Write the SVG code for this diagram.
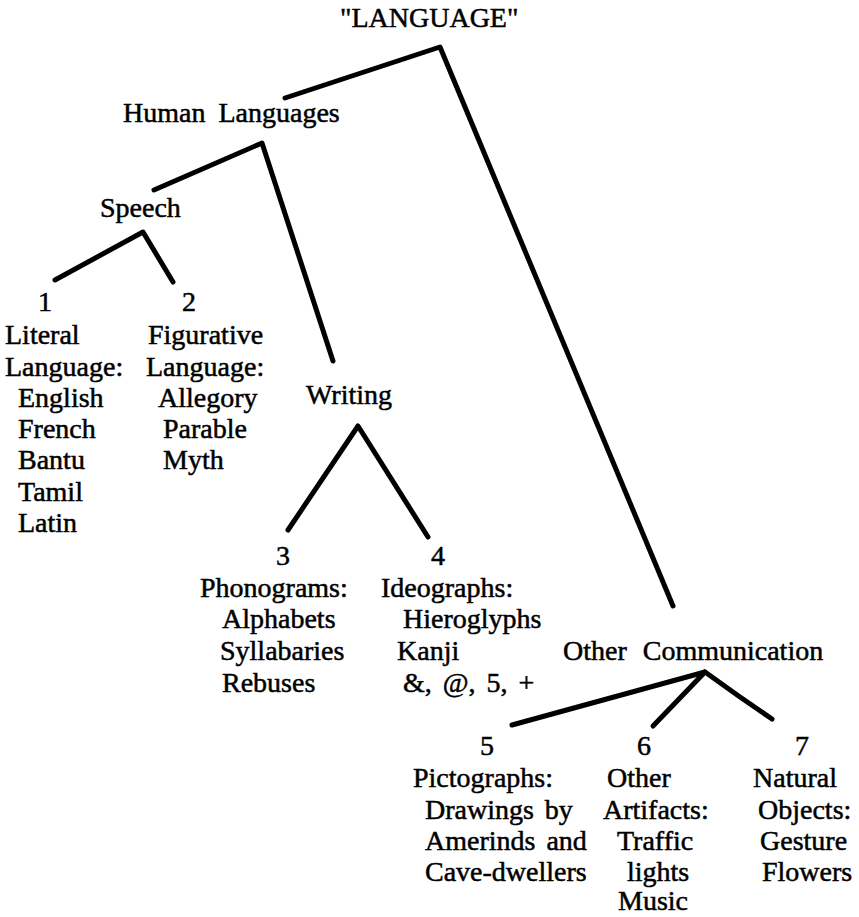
<svg xmlns="http://www.w3.org/2000/svg" width="859" height="917" viewBox="0 0 859 917">
<style>
text { font-family: "Liberation Serif", "Times New Roman", serif; font-size: 28px; fill: #000; stroke: #000; stroke-width: 0.5px; }
.edge { fill: none; stroke: #000; stroke-width: 5; stroke-linecap: round; stroke-linejoin: round; }
</style>
<rect width="859" height="917" fill="#fff"/>
<g id="connectors">
  <polyline class="edge" points="285,98 440,47 673,606"/>
  <polyline class="edge" points="154,190 262,143 333,361"/>
  <polyline class="edge" points="55,280 143,232 173,282"/>
  <polyline class="edge" points="288,530 358,426 428,537"/>
  <polyline class="edge" points="512,725 705,672 653,726"/>
  <polyline class="edge" points="705,672 740,697 772,719"/>
</g>
<g id="language"><text x="340" y="27">"LANGUAGE"</text></g>
<g id="human-languages"><text x="123" y="122" word-spacing="6">Human Languages</text></g>
<g id="speech"><text x="100" y="217">Speech</text></g>
<g id="node1">
  <text x="38" y="311">1</text>
  <text x="5" y="344">Literal</text>
  <text x="5" y="376">Language:</text>
  <text x="18" y="407">English</text>
  <text x="18" y="438">French</text>
  <text x="18" y="469">Bantu</text>
  <text x="18" y="501">Tamil</text>
  <text x="18" y="532">Latin</text>
</g>
<g id="node2">
  <text x="182" y="311">2</text>
  <text x="148" y="344">Figurative</text>
  <text x="146" y="376">Language:</text>
  <text x="158" y="407">Allegory</text>
  <text x="163" y="438">Parable</text>
  <text x="163" y="469">Myth</text>
</g>
<g id="writing"><text x="306" y="404">Writing</text></g>
<g id="node3">
  <text x="276" y="565">3</text>
  <text x="200" y="597">Phonograms:</text>
  <text x="222" y="628">Alphabets</text>
  <text x="220" y="660">Syllabaries</text>
  <text x="222" y="692">Rebuses</text>
</g>
<g id="node4">
  <text x="431" y="565">4</text>
  <text x="381" y="597">Ideographs:</text>
  <text x="403" y="628">Hieroglyphs</text>
  <text x="397" y="660">Kanji</text>
  <text x="403" y="692" word-spacing="4">&amp;, @, 5, +</text>
</g>
<g id="other-communication"><text x="563" y="660" word-spacing="9">Other Communication</text></g>
<g id="node5">
  <text x="480" y="755">5</text>
  <text x="413" y="787">Pictographs:</text>
  <text x="425" y="819" word-spacing="4">Drawings by</text>
  <text x="425" y="850" word-spacing="4">Amerinds and</text>
  <text x="425" y="881">Cave-dwellers</text>
</g>
<g id="node6">
  <text x="637" y="755">6</text>
  <text x="607" y="787">Other</text>
  <text x="603" y="819">Artifacts:</text>
  <text x="617" y="850">Traffic</text>
  <text x="627" y="881">lights</text>
  <text x="618" y="910">Music</text>
</g>
<g id="node7">
  <text x="795" y="755">7</text>
  <text x="753" y="787">Natural</text>
  <text x="758" y="819">Objects:</text>
  <text x="760" y="850">Gesture</text>
  <text x="762" y="881">Flowers</text>
</g>
</svg>
